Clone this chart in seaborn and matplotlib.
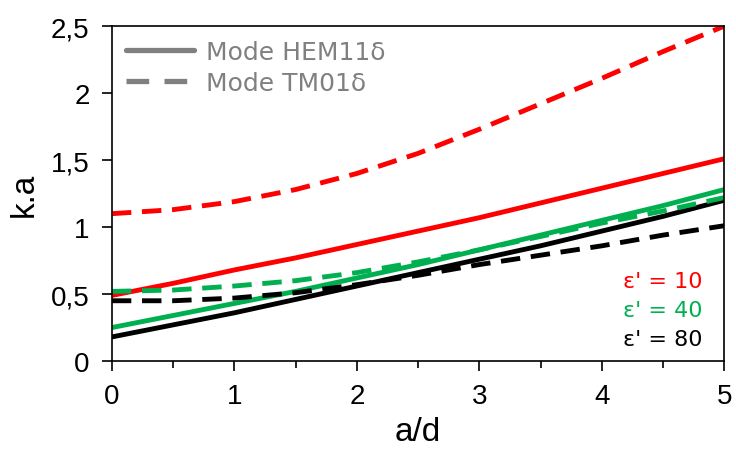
import numpy as np
import pandas as pd
import matplotlib
matplotlib.use('Agg')
import matplotlib.pyplot as plt
import seaborn as sns
from matplotlib.ticker import FuncFormatter, MultipleLocator
from matplotlib.lines import Line2D

# values
a_d = [0, 0.5, 1, 1.5, 2, 2.5, 3, 3.5, 4, 4.5, 5]

hem_eps10 = [0.49, 0.58, 0.68, 0.77, 0.87, 0.97, 1.07, 1.18, 1.29, 1.40, 1.51]
hem_eps40 = [0.25, 0.34, 0.43, 0.52, 0.62, 0.72, 0.83, 0.94, 1.05, 1.16, 1.28]
hem_eps80 = [0.18, 0.27, 0.36, 0.46, 0.56, 0.66, 0.76, 0.86, 0.97, 1.08, 1.20]

tm_eps10 = [1.10, 1.13, 1.19, 1.28, 1.40, 1.55, 1.73, 1.92, 2.11, 2.31, 2.50]
tm_eps40 = [0.52, 0.53, 0.56, 0.60, 0.66, 0.74, 0.83, 0.93, 1.03, 1.12, 1.22]
tm_eps80 = [0.45, 0.45, 0.47, 0.51, 0.57, 0.64, 0.72, 0.79, 0.86, 0.94, 1.01]

eps_labels = ["ε' = 10", "ε' = 40", "ε' = 80"]
colors = ['#FF0000', '#00B050', '#000000']
legend_labels = ['Mode HEM11δ', 'Mode TM01δ']

sns.set_theme(style='white')
plt.rcParams['font.family'] = ['Liberation Sans', 'DejaVu Sans']
plt.rcParams['text.color'] = 'black'
plt.rcParams['axes.labelcolor'] = 'black'

fig = plt.figure(figsize=(7.36, 4.52), dpi=100)
ax = fig.add_axes([0.152, 0.199, 0.832, 0.741])

series = [
    (hem_eps10, colors[0], '-'), (hem_eps40, colors[1], '-'), (hem_eps80, colors[2], '-'),
    (tm_eps10, colors[0], '--'), (tm_eps40, colors[1], '--'), (tm_eps80, colors[2], '--'),
]
dash = (4.0, 2.2)
for vals, c, ls in series:
    df = pd.DataFrame({'a/d': a_d, 'k.a': vals})
    sns.lineplot(data=df, x='a/d', y='k.a', color=c, lw=3.5, ax=ax)
    l = ax.lines[-1]
    if ls == '--':
        l.set_dashes(dash)

ax.set_xlim(0, 5)
ax.set_ylim(0, 2.5)
ax.xaxis.set_major_locator(MultipleLocator(1))
ax.xaxis.set_minor_locator(MultipleLocator(0.5))
ax.yaxis.set_major_locator(MultipleLocator(0.5))
ax.yaxis.set_major_formatter(FuncFormatter(lambda v, p: f'{v:g}'.replace('.', ',')))
ax.tick_params(axis='both', which='major', direction='out', length=7, width=1.2,
               colors='black', labelsize=20, bottom=True, left=True, pad=9)
ax.tick_params(axis='x', which='minor', direction='out', length=5, width=1.2,
               color='black', bottom=True)
for sp in ax.spines.values():
    sp.set_color('black')
    sp.set_linewidth(1.2)

ax.set_xlabel('a/d', fontsize=24, labelpad=5)
ax.set_ylabel('k.a', fontsize=24, labelpad=8)

gray = '#808080'
handles = [Line2D([], [], color=gray, lw=3.8),
           Line2D([], [], color=gray, lw=3.8, dashes=(4.3, 2.9))]
ax.legend(handles, legend_labels, loc='upper left', frameon=False,
          handlelength=2.75, prop={'family': 'DejaVu Sans', 'size': 18},
          labelcolor=gray, borderaxespad=0.15, borderpad=0.4,
          handletextpad=0.45, labelspacing=0.28)

for i, (txt, c) in enumerate(zip(eps_labels, colors)):
    ax.text(0.964, 0.24 - i * 0.0865, txt, color=c, fontsize=16, family='DejaVu Sans',
            transform=ax.transAxes, ha='right', va='center')

fig.savefig('out.png', dpi=100)
